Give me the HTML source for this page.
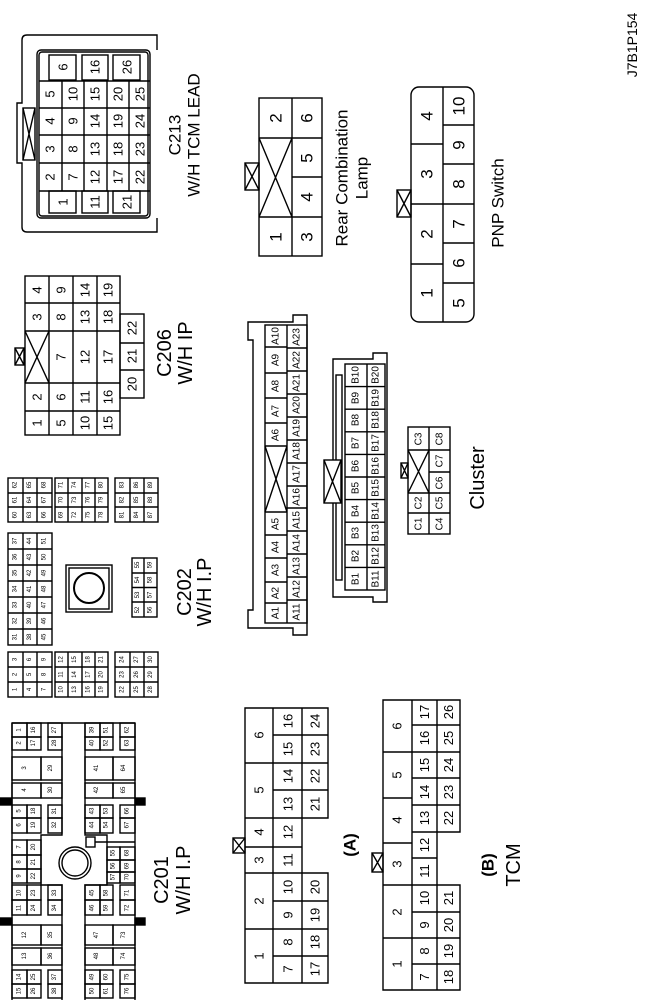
<!DOCTYPE html>
<html><head><meta charset="utf-8"><style>
html,body{margin:0;padding:0;background:#fff}
svg{display:block}
text{font-family:"Liberation Sans",sans-serif;text-anchor:middle;dominant-baseline:central;fill:#000}
.g rect,.g path,.g polygon,.g line,.g circle{fill:none;stroke:#000;stroke-width:1.4}
.xs text{font-size:6px}
.s text{font-size:10px}
.m text{font-size:13px}
.l text{font-size:17px}
.xl text{font-size:20px}
</style></head><body>
<svg width="646" height="1000" viewBox="0 0 646 1000" xmlns="http://www.w3.org/2000/svg">
<g class="g">

<!-- J7B1P154 -->
<g class="m"><text transform="translate(632,45)rotate(-90)" style="font-size:14px">J7B1P154</text></g>

<!-- C213 -->
<path d="M157,50 V35 H27 Q22,35 22,40 V103 H17 V163 H22 V227 Q22,232 27,232 H157 V218"/>
<rect x="37" y="50" width="113" height="168" rx="4"/>
<rect x="39" y="52" width="109" height="164" rx="3"/>
<rect x="23" y="108" width="12" height="52"/><path d="M23,108 L35,160 M35,108 L23,160"/>
<path d="M39,81 H150 M39,108 H150 M39,135 H150 M39,163 H150 M39,191 H150 M62,81 V191 M84,81 V191 M107,81 V191 M129,81 V191"/>
<rect x="49" y="55" width="27" height="25"/><rect x="82" y="55" width="26" height="25"/><rect x="113" y="55" width="27" height="25"/>
<rect x="49" y="191" width="27" height="22"/><rect x="82" y="191" width="26" height="22"/><rect x="113" y="191" width="27" height="22"/>
<g class="m">
<text transform="translate(63,67)rotate(-90)">6</text><text transform="translate(95,67)rotate(-90)">16</text><text transform="translate(127,67)rotate(-90)">26</text>
<text transform="translate(63,202)rotate(-90)">1</text><text transform="translate(95,202)rotate(-90)">11</text><text transform="translate(127,202)rotate(-90)">21</text>
<text transform="translate(50,94)rotate(-90)">5</text><text transform="translate(50,121)rotate(-90)">4</text><text transform="translate(50,149)rotate(-90)">3</text><text transform="translate(50,177)rotate(-90)">2</text>
<text transform="translate(73,94)rotate(-90)">10</text><text transform="translate(73,121)rotate(-90)">9</text><text transform="translate(73,149)rotate(-90)">8</text><text transform="translate(73,177)rotate(-90)">7</text>
<text transform="translate(95,94)rotate(-90)">15</text><text transform="translate(95,121)rotate(-90)">14</text><text transform="translate(95,149)rotate(-90)">13</text><text transform="translate(95,177)rotate(-90)">12</text>
<text transform="translate(118,94)rotate(-90)">20</text><text transform="translate(118,121)rotate(-90)">19</text><text transform="translate(118,149)rotate(-90)">18</text><text transform="translate(118,177)rotate(-90)">17</text>
<text transform="translate(140,94)rotate(-90)">25</text><text transform="translate(140,121)rotate(-90)">24</text><text transform="translate(140,149)rotate(-90)">23</text><text transform="translate(140,177)rotate(-90)">22</text>
</g>
<g class="l"><text transform="translate(175,135)rotate(-90)">C213</text><text transform="translate(194,135)rotate(-90)">W/H TCM LEAD</text></g>

<!-- Rear Combination Lamp -->
<rect x="259" y="98" width="63" height="158"/>
<path d="M292,98 V256 M259,138 H322 M259,217 H322 M292,177 H322 M259,138 L292,217 M292,138 L259,217"/>
<rect x="245" y="163" width="14" height="27"/><path d="M245,163 L259,190 M259,163 L245,190"/>
<g class="l">
<text transform="translate(276,118)rotate(-90)">2</text><text transform="translate(276,237)rotate(-90)">1</text>
<text transform="translate(307,118)rotate(-90)">6</text><text transform="translate(307,158)rotate(-90)">5</text><text transform="translate(307,197)rotate(-90)">4</text><text transform="translate(307,237)rotate(-90)">3</text>
<text transform="translate(342,178)rotate(-90)">Rear Combination</text><text transform="translate(362,178)rotate(-90)">Lamp</text>
</g>

<!-- PNP Switch -->
<rect x="411" y="87" width="63" height="235" rx="8"/>
<path d="M443,87 V322 M411,144 H443 M411,204 H474 M411,264 H443 M443,125 H474 M443,164 H474 M443,243 H474 M443,283 H474"/>
<rect x="397" y="190" width="14" height="27"/><path d="M397,190 L411,217 M411,190 L397,217"/>
<g class="l">
<text transform="translate(427,116)rotate(-90)">4</text><text transform="translate(427,174)rotate(-90)">3</text><text transform="translate(427,234)rotate(-90)">2</text><text transform="translate(427,293)rotate(-90)">1</text>
<text transform="translate(459,106)rotate(-90)">10</text><text transform="translate(459,145)rotate(-90)">9</text><text transform="translate(459,184)rotate(-90)">8</text><text transform="translate(459,224)rotate(-90)">7</text><text transform="translate(459,263)rotate(-90)">6</text><text transform="translate(459,303)rotate(-90)">5</text>
<text transform="translate(498,203)rotate(-90)">PNP Switch</text>
</g>

<!-- C206 -->
<rect x="25" y="276" width="95" height="159"/>
<path d="M49,276 V435 M73,276 V435 M97,276 V435 M25,303 H120 M25,331 H120 M25,383 H120 M25,411 H120 M25,331 L49,383 M49,331 L25,383"/>
<rect x="120" y="314" width="24" height="84"/><path d="M120,343 H144 M120,370 H144"/>
<rect x="15" y="348" width="9" height="17"/><path d="M15,348 L24,365 M24,348 L15,365"/>
<g class="m">
<text transform="translate(37,290)rotate(-90)">4</text><text transform="translate(37,317)rotate(-90)">3</text><text transform="translate(37,397)rotate(-90)">2</text><text transform="translate(37,423)rotate(-90)">1</text>
<text transform="translate(61,290)rotate(-90)">9</text><text transform="translate(61,317)rotate(-90)">8</text><text transform="translate(61,357)rotate(-90)">7</text><text transform="translate(61,397)rotate(-90)">6</text><text transform="translate(61,423)rotate(-90)">5</text>
<text transform="translate(85,290)rotate(-90)">14</text><text transform="translate(85,317)rotate(-90)">13</text><text transform="translate(85,357)rotate(-90)">12</text><text transform="translate(85,397)rotate(-90)">11</text><text transform="translate(85,423)rotate(-90)">10</text>
<text transform="translate(108,290)rotate(-90)">19</text><text transform="translate(108,317)rotate(-90)">18</text><text transform="translate(108,357)rotate(-90)">17</text><text transform="translate(108,397)rotate(-90)">16</text><text transform="translate(108,423)rotate(-90)">15</text>
<text transform="translate(132,328)rotate(-90)">22</text><text transform="translate(132,356)rotate(-90)">21</text><text transform="translate(132,384)rotate(-90)">20</text>
</g>
<g class="xl"><text transform="translate(165,353)rotate(-90)">C206</text><text transform="translate(186,353)rotate(-90)">W/H IP</text></g>

<!-- Cluster A -->
<polygon points="248,322 293,322 293,315 307,315 307,635 293,635 293,628 248,628 248,610 253,610 253,340 248,340"/>
<rect x="265" y="325" width="42" height="298"/>
<path d="M287,325 V623 M265,347 H287 M265,373 H287 M265,398 H287 M265,423 H287 M265,446 H287 M265,512 H287 M265,535 H287 M265,558 H287 M265,582 H287 M265,603 H287 M265,446 L287,512 M287,446 L265,512
M287,348 H307 M287,371 H307 M287,394 H307 M287,417 H307 M287,440 H307 M287,463 H307 M287,486 H307 M287,508 H307 M287,531 H307 M287,554 H307 M287,577 H307 M287,600 H307"/>
<g class="s">
<text transform="translate(276,336)rotate(-90)">A10</text><text transform="translate(276,360)rotate(-90)">A9</text><text transform="translate(276,386)rotate(-90)">A8</text><text transform="translate(276,411)rotate(-90)">A7</text><text transform="translate(276,435)rotate(-90)">A6</text><text transform="translate(276,524)rotate(-90)">A5</text><text transform="translate(276,547)rotate(-90)">A4</text><text transform="translate(276,570)rotate(-90)">A3</text><text transform="translate(276,593)rotate(-90)">A2</text><text transform="translate(276,613)rotate(-90)">A1</text>
<text transform="translate(297,337)rotate(-90)">A23</text><text transform="translate(297,360)rotate(-90)">A22</text><text transform="translate(297,383)rotate(-90)">A21</text><text transform="translate(297,405)rotate(-90)">A20</text><text transform="translate(297,428)rotate(-90)">A19</text><text transform="translate(297,451)rotate(-90)">A18</text><text transform="translate(297,474)rotate(-90)">A17</text><text transform="translate(297,497)rotate(-90)">A16</text><text transform="translate(297,520)rotate(-90)">A15</text><text transform="translate(297,543)rotate(-90)">A14</text><text transform="translate(297,566)rotate(-90)">A13</text><text transform="translate(297,589)rotate(-90)">A12</text><text transform="translate(297,612)rotate(-90)">A11</text>
</g>

<!-- Cluster B -->
<polygon points="333,359 373,359 373,353 387,353 387,602 373,602 373,597 333,597"/>
<rect x="336" y="375" width="6" height="205"/>
<rect x="345" y="364" width="40" height="226"/>
<path d="M367,364 V590 M345,386.6 H385 M345,409.2 H385 M345,431.8 H385 M345,454.4 H385 M345,477 H385 M345,499.6 H385 M345,522.2 H385 M345,544.8 H385 M345,567.4 H385"/>
<rect x="324" y="460" width="17" height="43" style="fill:#fff"/><path d="M324,460 L341,503 M341,460 L324,503"/>
<g class="s">
<text transform="translate(356,375)rotate(-90)">B10</text><text transform="translate(356,398)rotate(-90)">B9</text><text transform="translate(356,420)rotate(-90)">B8</text><text transform="translate(356,443)rotate(-90)">B7</text><text transform="translate(356,466)rotate(-90)">B6</text><text transform="translate(356,488)rotate(-90)">B5</text><text transform="translate(356,511)rotate(-90)">B4</text><text transform="translate(356,533)rotate(-90)">B3</text><text transform="translate(356,556)rotate(-90)">B2</text><text transform="translate(356,579)rotate(-90)">B1</text>
<text transform="translate(376,375)rotate(-90)">B20</text><text transform="translate(376,398)rotate(-90)">B19</text><text transform="translate(376,420)rotate(-90)">B18</text><text transform="translate(376,443)rotate(-90)">B17</text><text transform="translate(376,466)rotate(-90)">B16</text><text transform="translate(376,488)rotate(-90)">B15</text><text transform="translate(376,511)rotate(-90)">B14</text><text transform="translate(376,533)rotate(-90)">B13</text><text transform="translate(376,556)rotate(-90)">B12</text><text transform="translate(376,579)rotate(-90)">B11</text>
</g>

<!-- Cluster C -->
<rect x="408" y="427" width="42" height="107"/>
<path d="M429,427 V534 M408,450 H450 M408,493 H450 M408,513 H450 M429,472 H450 M408,450 L429,493 M429,450 L408,493"/>
<rect x="401" y="463" width="7" height="15"/><path d="M401,463 L408,478 M408,463 L401,478"/>
<g class="s">
<text transform="translate(419,439)rotate(-90)">C3</text><text transform="translate(419,503)rotate(-90)">C2</text><text transform="translate(419,524)rotate(-90)">C1</text>
<text transform="translate(440,439)rotate(-90)">C8</text><text transform="translate(440,461)rotate(-90)">C7</text><text transform="translate(440,483)rotate(-90)">C6</text><text transform="translate(440,503)rotate(-90)">C5</text><text transform="translate(440,524)rotate(-90)">C4</text>
</g>
<g class="xl"><text transform="translate(478,478)rotate(-90)">Cluster</text></g>

<!-- C202 -->
<rect x="8" y="478" width="44" height="44"/><path d="M23,478 V522 M37,478 V522 M8,493 H52 M8,507 H52"/>
<rect x="55" y="478" width="53" height="44"/><path d="M68,478 V522 M82,478 V522 M95,478 V522 M55,493 H108 M55,507 H108"/>
<rect x="115" y="478" width="43" height="44"/><path d="M130,478 V522 M144,478 V522 M115,493 H158 M115,507 H158"/>
<rect x="8" y="533" width="44" height="112"/><path d="M23,533 V645 M37,533 V645 M8,549 H52 M8,565 H52 M8,581 H52 M8,597 H52 M8,613 H52 M8,629 H52"/>
<rect x="66" y="565" width="46" height="47"/><rect x="69" y="568" width="40" height="41"/><circle cx="89" cy="588" r="15" style="stroke-width:2"/>
<rect x="132" y="558" width="25" height="59"/><path d="M144,558 V617 M132,573 H157 M132,587.5 H157 M132,602 H157"/>
<rect x="8" y="652" width="44" height="45"/><path d="M23,652 V697 M37,652 V697 M8,667 H52 M8,682 H52"/>
<rect x="55" y="652" width="53" height="45"/><path d="M68,652 V697 M82,652 V697 M95,652 V697 M55,667 H108 M55,682 H108"/>
<rect x="115" y="652" width="43" height="45"/><path d="M130,652 V697 M144,652 V697 M115,667 H158 M115,682 H158"/>
<g class="xs">
<text transform="translate(15.5,485)rotate(-90)">62</text><text transform="translate(15.5,500)rotate(-90)">61</text><text transform="translate(15.5,515)rotate(-90)">60</text>
<text transform="translate(30,485)rotate(-90)">65</text><text transform="translate(30,500)rotate(-90)">64</text><text transform="translate(30,515)rotate(-90)">63</text>
<text transform="translate(44.5,485)rotate(-90)">68</text><text transform="translate(44.5,500)rotate(-90)">67</text><text transform="translate(44.5,515)rotate(-90)">66</text>
<text transform="translate(61.5,485)rotate(-90)">71</text><text transform="translate(61.5,500)rotate(-90)">70</text><text transform="translate(61.5,515)rotate(-90)">69</text>
<text transform="translate(75,485)rotate(-90)">74</text><text transform="translate(75,500)rotate(-90)">73</text><text transform="translate(75,515)rotate(-90)">72</text>
<text transform="translate(88.5,485)rotate(-90)">77</text><text transform="translate(88.5,500)rotate(-90)">76</text><text transform="translate(88.5,515)rotate(-90)">75</text>
<text transform="translate(101.5,485)rotate(-90)">80</text><text transform="translate(101.5,500)rotate(-90)">79</text><text transform="translate(101.5,515)rotate(-90)">78</text>
<text transform="translate(122.5,485)rotate(-90)">83</text><text transform="translate(122.5,500)rotate(-90)">82</text><text transform="translate(122.5,515)rotate(-90)">81</text>
<text transform="translate(137,485)rotate(-90)">86</text><text transform="translate(137,500)rotate(-90)">85</text><text transform="translate(137,515)rotate(-90)">84</text>
<text transform="translate(151,485)rotate(-90)">89</text><text transform="translate(151,500)rotate(-90)">88</text><text transform="translate(151,515)rotate(-90)">87</text>
<text transform="translate(15.5,541)rotate(-90)">37</text><text transform="translate(15.5,557)rotate(-90)">36</text><text transform="translate(15.5,573)rotate(-90)">35</text><text transform="translate(15.5,589)rotate(-90)">34</text><text transform="translate(15.5,605)rotate(-90)">33</text><text transform="translate(15.5,621)rotate(-90)">32</text><text transform="translate(15.5,637)rotate(-90)">31</text>
<text transform="translate(30,541)rotate(-90)">44</text><text transform="translate(30,557)rotate(-90)">43</text><text transform="translate(30,573)rotate(-90)">42</text><text transform="translate(30,589)rotate(-90)">41</text><text transform="translate(30,605)rotate(-90)">40</text><text transform="translate(30,621)rotate(-90)">39</text><text transform="translate(30,637)rotate(-90)">38</text>
<text transform="translate(44.5,541)rotate(-90)">51</text><text transform="translate(44.5,557)rotate(-90)">50</text><text transform="translate(44.5,573)rotate(-90)">49</text><text transform="translate(44.5,589)rotate(-90)">48</text><text transform="translate(44.5,605)rotate(-90)">47</text><text transform="translate(44.5,621)rotate(-90)">46</text><text transform="translate(44.5,637)rotate(-90)">45</text>
<text transform="translate(138,565)rotate(-90)">55</text><text transform="translate(138,580)rotate(-90)">54</text><text transform="translate(138,595)rotate(-90)">53</text><text transform="translate(138,610)rotate(-90)">52</text>
<text transform="translate(150.5,565)rotate(-90)">59</text><text transform="translate(150.5,580)rotate(-90)">58</text><text transform="translate(150.5,595)rotate(-90)">57</text><text transform="translate(150.5,610)rotate(-90)">56</text>
<text transform="translate(15.5,659.5)rotate(-90)">3</text><text transform="translate(15.5,674.5)rotate(-90)">2</text><text transform="translate(15.5,689.5)rotate(-90)">1</text>
<text transform="translate(30,659.5)rotate(-90)">6</text><text transform="translate(30,674.5)rotate(-90)">5</text><text transform="translate(30,689.5)rotate(-90)">4</text>
<text transform="translate(44.5,659.5)rotate(-90)">9</text><text transform="translate(44.5,674.5)rotate(-90)">8</text><text transform="translate(44.5,689.5)rotate(-90)">7</text>
<text transform="translate(61.5,659.5)rotate(-90)">12</text><text transform="translate(61.5,674.5)rotate(-90)">11</text><text transform="translate(61.5,689.5)rotate(-90)">10</text>
<text transform="translate(75,659.5)rotate(-90)">15</text><text transform="translate(75,674.5)rotate(-90)">14</text><text transform="translate(75,689.5)rotate(-90)">13</text>
<text transform="translate(88.5,659.5)rotate(-90)">18</text><text transform="translate(88.5,674.5)rotate(-90)">17</text><text transform="translate(88.5,689.5)rotate(-90)">16</text>
<text transform="translate(101.5,659.5)rotate(-90)">21</text><text transform="translate(101.5,674.5)rotate(-90)">20</text><text transform="translate(101.5,689.5)rotate(-90)">19</text>
<text transform="translate(122.5,659.5)rotate(-90)">24</text><text transform="translate(122.5,674.5)rotate(-90)">23</text><text transform="translate(122.5,689.5)rotate(-90)">22</text>
<text transform="translate(137,659.5)rotate(-90)">27</text><text transform="translate(137,674.5)rotate(-90)">26</text><text transform="translate(137,689.5)rotate(-90)">25</text>
<text transform="translate(151,659.5)rotate(-90)">30</text><text transform="translate(151,674.5)rotate(-90)">29</text><text transform="translate(151,689.5)rotate(-90)">28</text>
</g>
<g class="xl"><text transform="translate(185,592)rotate(-90)">C202</text><text transform="translate(205,592)rotate(-90)">W/H I.P</text></g>

<!-- C201 -->
<path d="M12,723 H135 M12,723 V1000 M135,723 V1000 M62,723 V835 H41 V885 H62 V1000 M85,723 V835 H107 V885 H85 V1000"/>
<rect x="0" y="798" width="12" height="7" style="fill:#000"/><rect x="135" y="798" width="10" height="7" style="fill:#000"/>
<rect x="0" y="918" width="12" height="7" style="fill:#000"/><rect x="135" y="918" width="10" height="7" style="fill:#000"/>
<circle cx="75" cy="863" r="16"/><circle cx="75" cy="863" r="13"/>
<rect x="86" y="837" width="9" height="10"/><path d="M95,842 H135"/>
<!-- left cells -->
<rect x="12" y="723" width="15" height="14"/><rect x="27" y="723" width="14" height="14"/><rect x="48" y="723" width="14" height="14"/>
<rect x="12" y="737" width="15" height="13"/><rect x="27" y="737" width="14" height="13"/><rect x="48" y="737" width="14" height="13"/>
<rect x="12" y="757" width="29" height="23"/><rect x="41" y="757" width="21" height="23"/>
<rect x="12" y="783" width="29" height="15"/><rect x="41" y="783" width="21" height="15"/>
<rect x="12" y="805" width="15" height="13"/><rect x="27" y="805" width="14" height="13"/><rect x="48" y="805" width="14" height="13"/>
<rect x="12" y="818" width="15" height="15"/><rect x="27" y="818" width="14" height="15"/><rect x="48" y="818" width="14" height="15"/>
<rect x="12" y="840" width="15" height="15"/><rect x="27" y="840" width="14" height="15"/>
<rect x="12" y="855" width="15" height="14"/><rect x="27" y="855" width="14" height="14"/>
<rect x="12" y="869" width="15" height="14"/><rect x="27" y="869" width="14" height="14"/>
<rect x="12" y="885" width="15" height="15"/><rect x="27" y="885" width="14" height="15"/><rect x="48" y="885" width="14" height="15"/>
<rect x="12" y="900" width="15" height="15"/><rect x="27" y="900" width="14" height="15"/><rect x="48" y="900" width="14" height="15"/>
<rect x="12" y="925" width="29" height="20"/><rect x="41" y="925" width="21" height="20"/>
<rect x="12" y="948" width="29" height="17"/><rect x="41" y="948" width="21" height="17"/>
<rect x="12" y="970" width="15" height="14"/><rect x="27" y="970" width="14" height="14"/><rect x="48" y="970" width="14" height="14"/>
<rect x="12" y="984" width="15" height="14"/><rect x="27" y="984" width="14" height="14"/><rect x="48" y="984" width="14" height="14"/>
<!-- right cells -->
<rect x="85" y="723" width="15" height="14"/><rect x="100" y="723" width="13" height="14"/><rect x="120" y="723" width="15" height="14"/>
<rect x="85" y="737" width="15" height="13"/><rect x="100" y="737" width="13" height="13"/><rect x="120" y="737" width="15" height="13"/>
<rect x="85" y="757" width="28" height="23"/><rect x="113" y="757" width="22" height="23"/>
<rect x="85" y="783" width="28" height="15"/><rect x="113" y="783" width="22" height="15"/>
<rect x="85" y="805" width="15" height="13"/><rect x="100" y="805" width="13" height="13"/><rect x="120" y="805" width="15" height="13"/>
<rect x="85" y="818" width="15" height="15"/><rect x="100" y="818" width="13" height="15"/><rect x="120" y="818" width="15" height="15"/>
<rect x="107" y="847" width="13" height="13"/><rect x="120" y="847" width="15" height="13"/>
<rect x="107" y="860" width="13" height="12"/><rect x="120" y="860" width="15" height="12"/>
<rect x="107" y="872" width="13" height="11"/><rect x="120" y="872" width="15" height="11"/>
<rect x="85" y="885" width="15" height="15"/><rect x="100" y="885" width="13" height="15"/><rect x="120" y="885" width="15" height="15"/>
<rect x="85" y="900" width="15" height="15"/><rect x="100" y="900" width="13" height="15"/><rect x="120" y="900" width="15" height="15"/>
<rect x="85" y="925" width="28" height="20"/><rect x="113" y="925" width="22" height="20"/>
<rect x="85" y="948" width="28" height="17"/><rect x="113" y="948" width="22" height="17"/>
<rect x="85" y="970" width="15" height="14"/><rect x="100" y="970" width="13" height="14"/><rect x="120" y="970" width="15" height="14"/>
<rect x="85" y="984" width="15" height="14"/><rect x="100" y="984" width="13" height="14"/><rect x="120" y="984" width="15" height="14"/>
<g class="xs">
<text transform="translate(19.5,730)rotate(-90)">1</text><text transform="translate(19.5,743)rotate(-90)">2</text><text transform="translate(25,768)rotate(-90)">3</text><text transform="translate(25,790)rotate(-90)">4</text><text transform="translate(19.5,811)rotate(-90)">5</text><text transform="translate(19.5,825)rotate(-90)">6</text><text transform="translate(19.5,847)rotate(-90)">7</text><text transform="translate(19.5,862)rotate(-90)">8</text><text transform="translate(19.5,876)rotate(-90)">9</text><text transform="translate(19.5,893)rotate(-90)">10</text><text transform="translate(19.5,908)rotate(-90)">11</text><text transform="translate(25,935)rotate(-90)">12</text><text transform="translate(25,956)rotate(-90)">13</text><text transform="translate(19.5,977)rotate(-90)">14</text><text transform="translate(19.5,991)rotate(-90)">15</text>
<text transform="translate(34,730)rotate(-90)">16</text><text transform="translate(34,743)rotate(-90)">17</text><text transform="translate(34,811)rotate(-90)">18</text><text transform="translate(34,825)rotate(-90)">19</text><text transform="translate(34,847)rotate(-90)">20</text><text transform="translate(34,862)rotate(-90)">21</text><text transform="translate(34,876)rotate(-90)">22</text><text transform="translate(34,893)rotate(-90)">23</text><text transform="translate(34,908)rotate(-90)">24</text><text transform="translate(34,977)rotate(-90)">25</text><text transform="translate(34,991)rotate(-90)">26</text>
<text transform="translate(55,730)rotate(-90)">27</text><text transform="translate(55,743)rotate(-90)">28</text><text transform="translate(51,768)rotate(-90)">29</text><text transform="translate(51,790)rotate(-90)">30</text><text transform="translate(55,811)rotate(-90)">31</text><text transform="translate(55,825)rotate(-90)">32</text><text transform="translate(55,893)rotate(-90)">33</text><text transform="translate(55,908)rotate(-90)">34</text><text transform="translate(51,935)rotate(-90)">35</text><text transform="translate(51,956)rotate(-90)">36</text><text transform="translate(55,977)rotate(-90)">37</text><text transform="translate(55,991)rotate(-90)">38</text>
<text transform="translate(92.5,730)rotate(-90)">39</text><text transform="translate(92.5,743)rotate(-90)">40</text><text transform="translate(97,768)rotate(-90)">41</text><text transform="translate(97,790)rotate(-90)">42</text><text transform="translate(92.5,811)rotate(-90)">43</text><text transform="translate(92.5,825)rotate(-90)">44</text><text transform="translate(92.5,893)rotate(-90)">45</text><text transform="translate(92.5,908)rotate(-90)">46</text><text transform="translate(97,935)rotate(-90)">47</text><text transform="translate(97,956)rotate(-90)">48</text><text transform="translate(92.5,977)rotate(-90)">49</text><text transform="translate(92.5,991)rotate(-90)">50</text>
<text transform="translate(106.5,730)rotate(-90)">51</text><text transform="translate(106.5,743)rotate(-90)">52</text><text transform="translate(106.5,811)rotate(-90)">53</text><text transform="translate(106.5,825)rotate(-90)">54</text><text transform="translate(113.5,853)rotate(-90)">55</text><text transform="translate(113.5,866)rotate(-90)">56</text><text transform="translate(113.5,877)rotate(-90)">57</text><text transform="translate(106.5,893)rotate(-90)">58</text><text transform="translate(106.5,908)rotate(-90)">59</text><text transform="translate(106.5,977)rotate(-90)">60</text><text transform="translate(106.5,991)rotate(-90)">61</text>
<text transform="translate(127.5,730)rotate(-90)">62</text><text transform="translate(127.5,743)rotate(-90)">63</text><text transform="translate(124,768)rotate(-90)">64</text><text transform="translate(124,790)rotate(-90)">65</text><text transform="translate(127.5,811)rotate(-90)">66</text><text transform="translate(127.5,825)rotate(-90)">67</text><text transform="translate(127.5,853)rotate(-90)">68</text><text transform="translate(127.5,866)rotate(-90)">69</text><text transform="translate(127.5,877)rotate(-90)">70</text><text transform="translate(127.5,893)rotate(-90)">71</text><text transform="translate(127.5,908)rotate(-90)">72</text><text transform="translate(124,935)rotate(-90)">73</text><text transform="translate(124,956)rotate(-90)">74</text><text transform="translate(127.5,977)rotate(-90)">75</text><text transform="translate(127.5,991)rotate(-90)">76</text>
</g>
<g class="xl"><text transform="translate(162,880)rotate(-90)">C201</text><text transform="translate(184,880)rotate(-90)">W/H I.P</text></g>

<!-- TCM (A) -->
<path d="M245,708 H328 V818 H302 V873 H328 V983 H245 Z M273,708 V983 M302,708 V983 M245,763 H302 M245,818 H302 M245,847 H302 M245,873 H302 M245,929 H302 M273,735 H328 M273,790 H328 M273,901 H328 M273,956 H328 M302,763 H328 M302,929 H328"/>
<rect x="233" y="838" width="12" height="15"/><path d="M233,838 L245,853 M245,838 L233,853"/>
<g class="m">
<text transform="translate(259,735)rotate(-90)">6</text><text transform="translate(259,790)rotate(-90)">5</text><text transform="translate(259,832)rotate(-90)">4</text><text transform="translate(259,860)rotate(-90)">3</text><text transform="translate(259,901)rotate(-90)">2</text><text transform="translate(259,956)rotate(-90)">1</text>
<text transform="translate(288,721)rotate(-90)">16</text><text transform="translate(288,749)rotate(-90)">15</text><text transform="translate(288,776)rotate(-90)">14</text><text transform="translate(288,804)rotate(-90)">13</text><text transform="translate(288,832)rotate(-90)">12</text><text transform="translate(288,860)rotate(-90)">11</text><text transform="translate(288,887)rotate(-90)">10</text><text transform="translate(288,915)rotate(-90)">9</text><text transform="translate(288,942)rotate(-90)">8</text><text transform="translate(288,969)rotate(-90)">7</text>
<text transform="translate(315,721)rotate(-90)">24</text><text transform="translate(315,749)rotate(-90)">23</text><text transform="translate(315,776)rotate(-90)">22</text><text transform="translate(315,804)rotate(-90)">21</text><text transform="translate(315,887)rotate(-90)">20</text><text transform="translate(315,915)rotate(-90)">19</text><text transform="translate(315,942)rotate(-90)">18</text><text transform="translate(315,969)rotate(-90)">17</text>
</g>
<g class="l"><text transform="translate(350,845)rotate(-90)" style="font-weight:bold">(A)</text></g>

<!-- TCM (B) -->
<path d="M383,700 H460 V832 H437 V885 H460 V990 H383 Z M412,700 V990 M437,700 V990 M383,752 H412 M383,798 H412 M383,843 H412 M383,885 H412 M383,938 H412 M412,725 H460 M412,752 H460 M412,778 H460 M412,805 H460 M412,832 H437 M412,858 H437 M412,885 H437 M412,912 H460 M412,938 H460 M412,964 H460"/>
<rect x="372" y="853" width="11" height="19"/><path d="M372,853 L383,872 M383,853 L372,872"/>
<g class="m">
<text transform="translate(397,726)rotate(-90)">6</text><text transform="translate(397,775)rotate(-90)">5</text><text transform="translate(397,820)rotate(-90)">4</text><text transform="translate(397,864)rotate(-90)">3</text><text transform="translate(397,912)rotate(-90)">2</text><text transform="translate(397,964)rotate(-90)">1</text>
<text transform="translate(424.5,712)rotate(-90)">17</text><text transform="translate(424.5,738)rotate(-90)">16</text><text transform="translate(424.5,765)rotate(-90)">15</text><text transform="translate(424.5,792)rotate(-90)">14</text><text transform="translate(424.5,818)rotate(-90)">13</text><text transform="translate(424.5,845)rotate(-90)">12</text><text transform="translate(424.5,871)rotate(-90)">11</text><text transform="translate(424.5,898)rotate(-90)">10</text><text transform="translate(424.5,925)rotate(-90)">9</text><text transform="translate(424.5,951)rotate(-90)">8</text><text transform="translate(424.5,977)rotate(-90)">7</text>
<text transform="translate(448.5,712)rotate(-90)">26</text><text transform="translate(448.5,738)rotate(-90)">25</text><text transform="translate(448.5,765)rotate(-90)">24</text><text transform="translate(448.5,792)rotate(-90)">23</text><text transform="translate(448.5,818)rotate(-90)">22</text><text transform="translate(448.5,898)rotate(-90)">21</text><text transform="translate(448.5,925)rotate(-90)">20</text><text transform="translate(448.5,951)rotate(-90)">19</text><text transform="translate(448.5,977)rotate(-90)">18</text>
</g>
<g class="l"><text transform="translate(488,865)rotate(-90)" style="font-weight:bold">(B)</text></g>
<g class="xl"><text transform="translate(514,865)rotate(-90)">TCM</text></g>
</g>
</svg>
</body></html>
